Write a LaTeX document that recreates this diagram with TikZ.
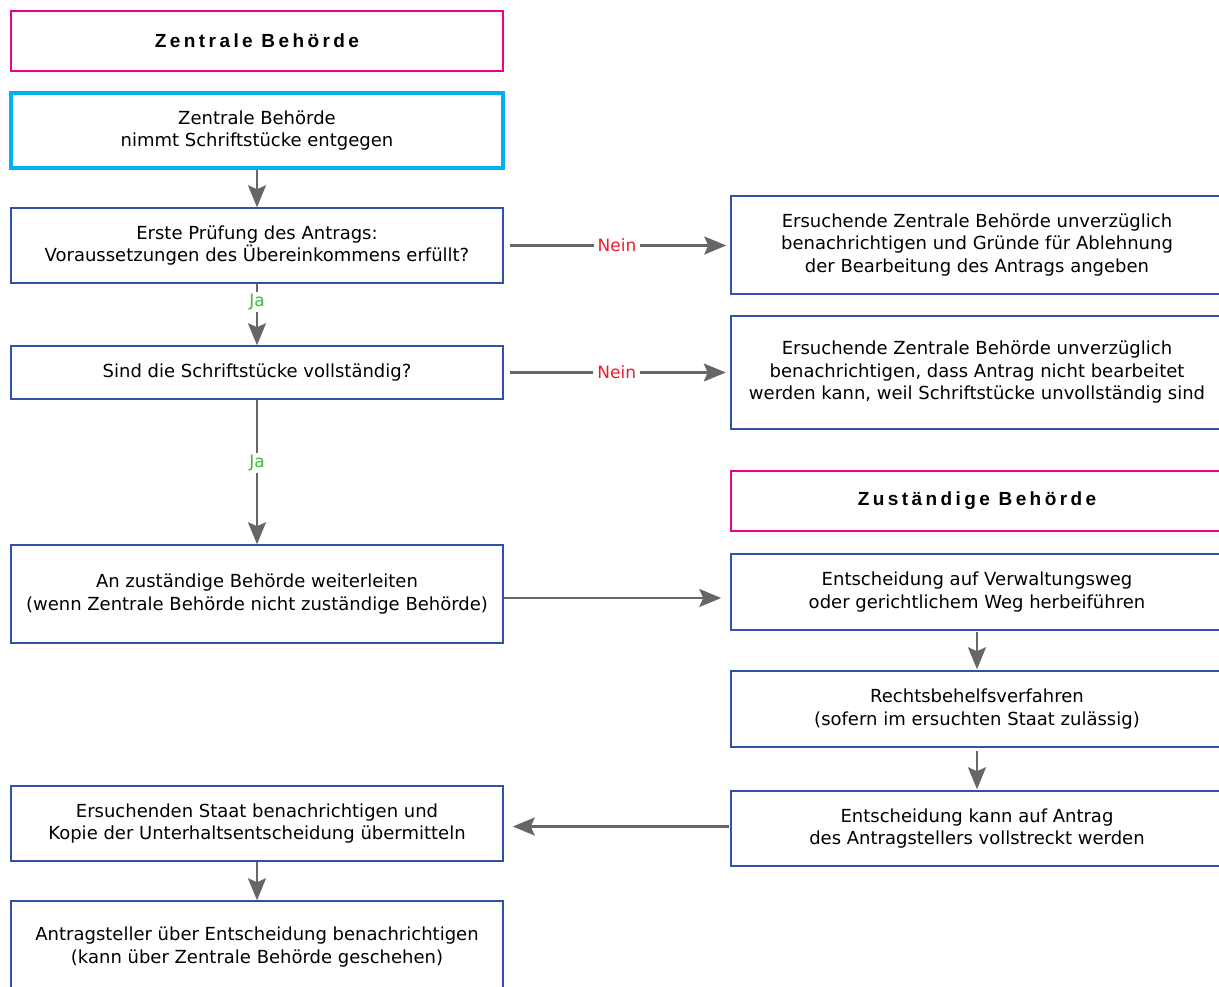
\documentclass[tikz,border=0pt]{standalone}
\usepackage{fontspec}
\setmainfont{DejaVu Sans}
\newfontfamily\headfont[LetterSpace=18]{Liberation Sans}
\usetikzlibrary{arrows.meta}
\definecolor{pinkline}{HTML}{EC008C}
\definecolor{cyanline}{HTML}{00B0F0}
\definecolor{boxblue}{HTML}{2F52A6}
\definecolor{arrowgray}{HTML}{666666}
\definecolor{neinred}{HTML}{EE1C2E}
\definecolor{jagreen}{HTML}{3CBB3C}
\tikzset{
	box/.style={draw=boxblue, line width=1.5pt, fill=white, minimum width=492pt, align=center, inner sep=0pt, font=\fontsize{18}{22.5}\selectfont},
	headbox/.style={box, draw=pinkline, line width=2.5pt, minimum height=60pt, font=\headfont\bfseries\fontsize{19}{22}\selectfont},
	flow/.style={->, draw=arrowgray, line width=2.2pt},
	ja/.style={text=jagreen, fill=white, inner sep=2pt, font=\fontsize{17}{20}\selectfont},
	nein/.style={text=neinred, fill=white, inner sep=4pt, font=\fontsize{17}{20}\selectfont}
}
\begin{document}
\begin{tikzpicture}[>={Stealth[length=22pt,width=18pt,inset=4pt]}, x=1pt, y=-1pt]
	\clip (0,0) rectangle (1219,986);
	% left column
	\node[headbox] (central) at (257,41) {Zentrale Behörde};
	\node[box, draw=cyanline, line width=4pt, minimum height=75pt] (receive) at (257,130.5) {Zentrale Behörde\\nimmt Schriftstücke entgegen};
	\node[box, minimum height=75pt] (check) at (257,245.5) {Erste Prüfung des Antrags:\\Voraussetzungen des Übereinkommens erfüllt?};
	\node[box, minimum height=53pt] (complete) at (257,372.5) {Sind die Schriftstücke vollständig?};
	\node[box, minimum height=98pt] (forward) at (257,594) {An zuständige Behörde weiterleiten\\(wenn Zentrale Behörde nicht zuständige Behörde)};
	\node[box, minimum height=75pt] (notify) at (257,823.5) {Ersuchenden Staat benachrichtigen und\\Kopie der Unterhaltsentscheidung übermitteln};
	\node[box, minimum height=92pt] (inform) at (257,947) {Antragsteller über Entscheidung benachrichtigen\\(kann über Zentrale Behörde geschehen)};
	% right column
	\node[box, minimum height=98pt] (reject) at (977,245) {Ersuchende Zentrale Behörde unverzüglich\\benachrichtigen und Gründe für Ablehnung\\der Bearbeitung des Antrags angeben};
	\node[box, line width=2.5pt, minimum height=113pt] (incomplete) at (977,372.5) {Ersuchende Zentrale Behörde unverzüglich\\benachrichtigen, dass Antrag nicht bearbeitet\\werden kann, weil Schriftstücke unvollständig sind};
	\node[headbox] (competent) at (977,501) {Zuständige Behörde};
	\node[box, minimum height=76pt] (decide) at (977,592) {Entscheidung auf Verwaltungsweg\\oder gerichtlichem Weg herbeiführen};
	\node[box, minimum height=76pt] (appeal) at (977,709) {Rechtsbehelfsverfahren\\(sofern im ersuchten Staat zulässig)};
	\node[box, minimum height=75pt] (enforce) at (977,828.5) {Entscheidung kann auf Antrag\\des Antragstellers vollstreckt werden};
	% connectors
	\draw[flow] (receive) -- (check);
	\draw[flow] (check) -- node[ja, pos=.3]{Ja} (complete);
	\draw[flow] (complete) -- node[ja, pos=.44]{Ja} (forward);
	\draw[flow, shorten <=6pt, shorten >=4pt] (check) -- node[nein]{Nein} (check -| reject.west);
	\draw[flow, shorten <=6pt, shorten >=4pt] (complete) -- node[nein]{Nein} (complete -| incomplete.west);
	\draw[flow, shorten >=9pt] ([yshift=-4pt]forward.east) -- ([yshift=-4pt]forward.east -| decide.west);
	\draw[flow, shorten <=1pt, shorten >=1pt] (decide) -- (appeal);
	\draw[flow, shorten <=3pt, shorten >=1pt] (appeal) -- (enforce);
	\draw[flow, shorten <=1pt, shorten >=9pt] ([yshift=2pt]enforce.west) -- ([yshift=2pt]enforce.west -| notify.east);
	\draw[flow] (notify) -- (inform);
\end{tikzpicture}
\end{document}
